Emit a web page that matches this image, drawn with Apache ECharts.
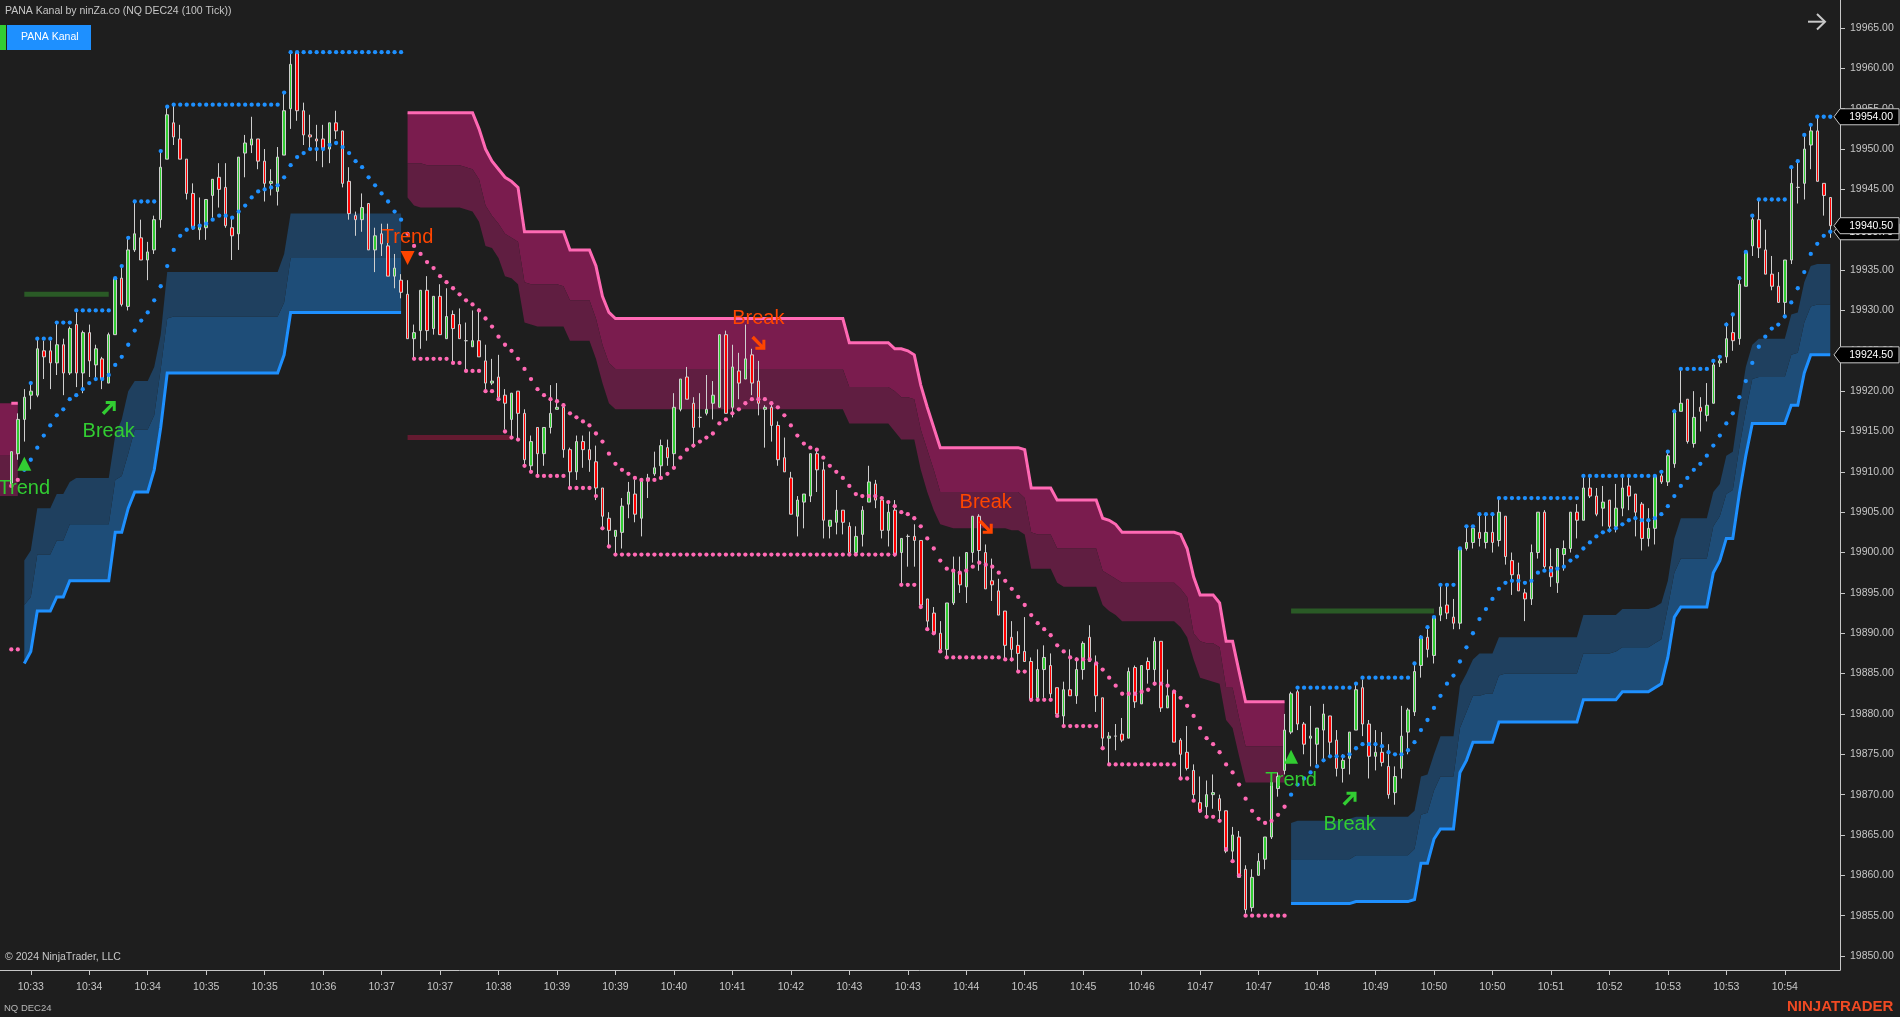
<!DOCTYPE html>
<html><head><meta charset="utf-8"><title>PANA Kanal</title>
<style>html,body{margin:0;padding:0;background:#1e1e1e;overflow:hidden}#c{width:1900px;height:1017px}</style>
<script src="https://cdn.jsdelivr.net/npm/echarts@6/dist/echarts.min.js"></script></head>
<body><div id="c"></div><script>
// one row per bar: open, high, low, close
const candles=[
[19908.5,19912.5,19908.25,19912.5],[19912.25,19917.25,19911.5,19916.5],[19916.5,19920.25,19913.75,19919.25],[19919.5,19921,19917.75,19920],[19919.5,19926.5,19919.25,19925.25],
[19925,19926.25,19921.5,19924.25],[19925,19926.25,19920.25,19923.5],[19923.5,19928.5,19922,19925.75],[19925.75,19926.5,19919.5,19922.25],[19922.25,19928,19922,19927.75],
[19928.25,19929.75,19920.5,19922.25],[19922.25,19927.5,19919.75,19927.25],[19927.25,19928.25,19921.75,19923.75],[19923.25,19925.75,19921.5,19925.25],[19924,19924.25,19920.25,19921.5],
[19921,19927.25,19921,19927],[19927,19934,19927,19934],[19934,19935.5,19930.5,19930.75],[19930.5,19939,19930,19937.5],[19937.5,19943.5,19937.25,19939.5],
[19939,19941.25,19936.25,19936.25],[19936.25,19938.5,19933.75,19937.25],[19937.5,19941.75,19937,19941.25],[19941.25,19949.75,19940.25,19947.75],[19948.75,19955.25,19948.75,19954.25],
[19953.25,19955.5,19950.5,19951.5],[19951.25,19953,19948.75,19948.75],[19948.75,19948.75,19943.75,19944.5],[19944.5,19945.75,19940,19940.25],[19940,19944,19938.75,19940.5],
[19940.25,19943.75,19938.75,19943.75],[19944.25,19946.25,19941.5,19946.25],[19946.5,19948.25,19942.75,19945],[19945.25,19948.25,19940.25,19940.5],[19940.25,19941.5,19936.25,19939.25],
[19939.5,19949,19937.5,19949],[19949.5,19951.75,19946.5,19950.75],[19950.5,19954,19949.5,19951.25],[19951.25,19951.25,19947.5,19948.5],[19948.5,19950,19943.5,19945.75],
[19945.75,19947.5,19944.25,19946],[19944.75,19950.25,19943,19949],[19949.25,19957,19949.25,19954.75],[19955,19962,19952.5,19960.5],[19962,19962,19953.5,19954.75],
[19954.75,19955.75,19950.5,19951.75],[19951.75,19954.25,19950,19951.5],[19951.25,19953,19948.5,19951],[19951.25,19953,19947.75,19950],[19950,19953.25,19948.25,19953.25],
[19953.25,19954.75,19951.25,19952.25],[19952.25,19952.25,19945.25,19945.75],[19946,19947.75,19941.25,19942],[19941.75,19942.25,19939.25,19941.25],[19941.25,19944.5,19939.75,19942.75],
[19943.25,19943.25,19937.5,19937.5],[19937.5,19940.25,19934.75,19939.25],[19939.5,19940.75,19936.75,19938.25],[19938,19940.75,19934.25,19934.25],[19934.25,19937,19932.75,19935.25],
[19933.75,19934.5,19931.5,19932.25],[19932,19933.75,19926.5,19926.5],[19926.5,19928.25,19924,19927.25],[19927.5,19932.5,19925.25,19932.5],[19932.5,19934.25,19926.25,19927.5],
[19927.75,19931.75,19927,19931.75],[19931.75,19933.25,19927,19927],[19926.5,19932.75,19926.5,19929.25],[19929.5,19930,19923.5,19927.75],[19928.25,19930.25,19926.5,19926.5],
[19926.25,19928.5,19922.5,19926.25],[19925.5,19930,19925.5,19926.25],[19926.25,19930.25,19924.25,19924.25],[19923.75,19925.75,19920.25,19921],[19921,19924,19920.75,19921.25],
[19921.75,19924.5,19919.25,19919.25],[19919.5,19920.25,19915.25,19918.5],[19916.5,19919.75,19914.25,19919.75],[19920,19920,19914,19917.25],[19917.25,19917.75,19910.75,19911.5],
[19910.75,19914.5,19910,19913.75],[19915.5,19915.5,19909.5,19912.25],[19912.25,19915.5,19910.75,19915.5],[19915.5,19920.75,19914.75,19917.25],[19917.75,19921,19917.75,19918],
[19918,19918.5,19911.75,19912.75],[19912.75,19913,19908,19910],[19910,19914.5,19909,19913.75],[19913.75,19914.5,19910.5,19912.75],[19912.75,19915,19910,19911.5],
[19911.25,19913.25,19906.5,19908],[19908,19908,19903,19904.5],[19904.25,19905,19900.75,19902.75],[19902,19902.75,19899.75,19902.75],[19902.5,19906.75,19900.5,19905.75],
[19906,19908.75,19904.25,19907.5],[19907.25,19909,19903.75,19904.75],[19904.25,19909,19902,19909],[19909,19909.75,19906.75,19909.25],[19909.75,19912.5,19909.5,19910.5],
[19910.75,19914,19909,19913.25],[19913,19914,19910.75,19911.75],[19912.25,19919.75,19910.5,19918],[19917.75,19921.5,19917.5,19921.5],[19921.75,19923,19919,19919],
[19918.5,19919.25,19913,19915.5],[19916.75,19919.75,19915.5,19916.75],[19917.25,19922,19917,19917.75],[19918.5,19921.25,19916.5,19919.5],[19918,19927,19918,19927],
[19927,19927.5,19917.25,19917.25],[19918,19925.75,19916.75,19923],[19922.5,19924.75,19919,19921],[19921.5,19928.25,19921.5,19924],[19924.5,19925.25,19919.5,19921],
[19921.25,19923.75,19917,19918.5],[19917.75,19918.25,19913,19918],[19918,19918.5,19913.75,19915.75],[19915.75,19916.25,19910.75,19911.5],[19911.75,19914.25,19910,19910],
[19909.25,19910,19904.75,19904.75],[19904.5,19907,19902,19906.5],[19906.25,19907.25,19903,19907.25],[19907,19912.25,19906.25,19912.25],[19912.25,19912.75,19907.5,19910.25],
[19910.25,19911.25,19901.75,19904],[19903.25,19904,19901.75,19904],[19903.75,19907.75,19902.25,19905.25],[19905.25,19905.25,19902.25,19903.75],[19903.25,19903.75,19899.75,19900],
[19900,19903.25,19899.75,19902],[19902.25,19905.75,19900.75,19905.25],[19906.25,19910.75,19906.25,19908.75],[19908.5,19909,19905.5,19906.5],[19906.5,19907,19901.75,19902.75],
[19902.75,19906,19900.75,19905],[19905.25,19906.5,19899.5,19899.75],[19900,19901.75,19896,19901.75],[19902,19902.25,19898.25,19902],[19902,19903.5,19898.25,19901.5],
[19901.5,19901.5,19893,19893.5],[19894.25,19894.25,19890.5,19891.5],[19892.5,19893.25,19890,19890],[19890,19891.5,19887.75,19888],[19888,19893.75,19887,19893.75],
[19893.75,19899.5,19893.5,19897.75],[19897.5,19899.5,19895,19896],[19895.75,19900,19893.75,19900],[19900,19904.5,19898.75,19904.5],[19904.5,19904.75,19897.75,19900.25],
[19900,19901,19895.5,19895.5],[19896.5,19899.25,19894,19896],[19895.25,19896.75,19892.25,19892.25],[19892.75,19892.75,19886.75,19888.5],[19889.5,19891.5,19886.5,19888],
[19888.5,19890.25,19885.25,19887.5],[19887.75,19892,19886.5,19886.5],[19886.5,19887,19881.5,19881.75],[19882,19888,19882,19885.5],[19885.5,19888.5,19882,19887],
[19886,19887.5,19882,19882.5],[19883.25,19883.25,19879.75,19880],[19879.75,19884,19878.5,19883],[19883,19888,19882.25,19882.25],[19882.25,19887,19881.25,19885.5],
[19885.5,19889,19884.25,19888.75],[19889.5,19891,19886.5,19886.5],[19886.25,19887.25,19880.25,19882.25],[19882,19882,19875.75,19877],[19877,19877.75,19873.75,19877.25],
[19877.25,19878.75,19875.5,19877.25],[19877.5,19879.5,19876.5,19876.75],[19877,19885.75,19877,19885.25],[19885.75,19886,19880.75,19881.5],[19881.25,19886,19881.25,19886],
[19886.5,19887,19883.75,19885.5],[19885.5,19889.5,19883.5,19889],[19889,19889,19880.25,19880.75],[19880.75,19885.5,19880.75,19882.25],[19882.75,19883,19876.5,19876.5],
[19876.75,19877,19872,19875],[19875.25,19878.5,19873,19873.25],[19873,19873.75,19869.25,19870],[19869,19872.25,19867.75,19868],[19868.5,19871.75,19867.25,19870],
[19870,19872.5,19868.25,19870.25],[19869.5,19870,19866.75,19868],[19868,19868,19862.75,19863],[19863,19866,19861.75,19865],[19864.75,19865.5,19859.75,19859.75],
[19860.75,19861.25,19855.25,19855.75],[19856,19860.75,19855.5,19859.75],[19860,19862.75,19860,19861.75],[19862,19864.75,19860.75,19864.75],[19864.75,19871.5,19864.5,19871.5],
[19870.75,19872.75,19869.75,19872.25],[19873,19880,19872.5,19878],[19877.75,19882.75,19877.5,19882.5],[19882.75,19883,19878,19878.75],[19878.75,19879,19875,19876.25],
[19877,19881,19873.5,19877.25],[19876.25,19878.25,19873.75,19878.25],[19878,19881.25,19874.25,19880],[19879.75,19879.75,19874.75,19876.5],[19876.75,19878,19872.25,19873.25],
[19873.25,19875,19871.5,19874.25],[19874.5,19877.75,19872.5,19877.75],[19878,19883.75,19878,19883],[19883.25,19884.25,19877.25,19878.75],[19878.75,19879.25,19872,19874.75],
[19874.75,19878,19873,19875.25],[19875.25,19877.75,19873.5,19874],[19873.5,19876.25,19869.5,19870],[19870.25,19873.5,19868.75,19872.25],[19873.25,19881,19872,19877.25],
[19877.75,19880.75,19875,19880.5],[19880.25,19886.25,19879.75,19885.25],[19886,19889.75,19884.5,19889.5],[19889.5,19890.5,19887,19888],[19887.25,19892,19886.25,19892],
[19892.25,19896,19891.5,19893.25],[19893.5,19896,19891.75,19892.5],[19892,19894.25,19890.5,19891.25],[19891.25,19900.5,19890.5,19900.5],[19900.5,19903.25,19900.25,19901.25],
[19901.25,19903.25,19900.5,19903],[19902.5,19904.75,19900.75,19901.75],[19901.25,19904.75,19900.5,19902.5],[19902.5,19904.75,19900,19901.25],[19901.5,19906.75,19900.75,19905],
[19904.5,19904.5,19898.5,19899.5],[19899,19900,19894.75,19897.25],[19897.25,19898.75,19895.25,19895.25],[19895,19895.5,19891.5,19894.25],[19894.25,19901,19893.5,19900],
[19900,19905,19899.25,19905],[19905,19905.25,19898,19898.25],[19898.25,19900.5,19895.75,19897],[19896.25,19900.5,19895,19900.5],[19899.75,19901.5,19897.75,19900.5],
[19900.5,19905,19900,19905],[19905,19906,19901.75,19904],[19904,19909.5,19904,19908],[19908,19909.5,19906.75,19907],[19907,19908,19904.5,19904.75],
[19905.5,19908.25,19903.25,19906.25],[19906.5,19906.5,19902.5,19903.25],[19903.25,19908.5,19902.5,19905.5],[19905.5,19909.5,19904.5,19908],[19908.25,19909.5,19905.25,19907],
[19907.25,19907.25,19902,19905],[19906,19906.25,19900.25,19901.75],[19901.75,19905.5,19900.75,19903],[19903,19909.5,19901,19909.5],[19909.5,19910,19908.5,19908.75],
[19908.75,19912.5,19908.25,19912],[19911,19917.75,19910.5,19917.5],[19917.5,19922.75,19917.5,19918.5],[19919,19919,19913.5,19913.75],[19913.5,19920,19913,19916.75],
[19918,19919.25,19915,19917.5],[19917,19921,19916.25,19918.25],[19918.5,19923.75,19918.5,19923.25],[19923.5,19924.25,19923,19923.75],[19924.25,19928.5,19923.5,19926.5],
[19927.25,19929.5,19925,19926.25],[19926.5,19934,19925.75,19933.25],[19933,19937.25,19933,19937.25],[19938,19941.75,19936.75,19941.25],[19941.25,19943.75,19936.5,19937.75],
[19937.5,19940,19934.5,19934.5],[19934.5,19936.75,19932.5,19933],[19933,19934.75,19931,19931],[19931,19936.25,19929.5,19936.25],[19936.25,19947.75,19935.75,19945.75],
[19945.25,19948.5,19943.25,19945.25],[19945.75,19951.75,19943.75,19950],[19950.5,19953,19947.5,19952.25],[19952.25,19954,19946,19946],[19945.75,19945.75,19941.75,19944.25],
[19944,19944,19939,19940.5]];

// trailing channel dots, bars 0..280 (10 per row)
const trailDots=[
19908.25,19909,19910.25,19911.5,19913,19914.5,19915.75,19917,19917.75,19919,
19919.5,19920.25,19921,19921.5,19921.5,19922,19923.25,19924.25,19925.75,19927.5,
19928.75,19929.75,19931.25,19933,19935.5,19937.5,19939.25,19940,19940.25,19940.5,
19940.75,19941.25,19941.75,19941.75,19941.5,19942.25,19943,19944,19944.75,19945,
19945.25,19945.5,19946.5,19948,19949,19949.5,19950,19950,19950,19950.5,
19950.75,19950.25,19949.5,19948.5,19947.75,19946.5,19945.5,19944.5,19943.5,19942.25,
19941.25,19939.5,19938,19937,19936,19935.25,19934.25,19933.5,19932.75,19932,
19931.25,19930.75,19930,19929,19928,19926.75,19925.75,19925,19924,19922.75,
19921.5,19920.25,19919.5,19919,19918.75,19918.25,19917.25,19916.75,19916.25,19915.75,
19914.75,19913.75,19912.25,19911,19910.25,19909.75,19909.25,19909,19909,19909,
19909.25,19909.75,19910.5,19911.75,19912.75,19913.25,19913.75,19914.25,19914.75,19916,
19916.5,19917.25,19917.75,19918.5,19919,19919,19919,19918.5,19918,19917,
19915.75,19914.5,19913.5,19913,19912.75,19911.75,19910.75,19910,19909.25,19908.25,
19907.25,19907,19907,19907,19906.75,19906.25,19905.75,19905,19904.75,19904.25,
19903.25,19901.75,19900.5,19899,19898,19897.75,19897.5,19897.75,19898.25,19898.75,
19898.5,19898.25,19897.5,19896.5,19895.5,19894.5,19893.5,19892.25,19891.25,19890.5,
19889.75,19888.5,19887.75,19887,19886.75,19886.75,19886.75,19886.25,19885.5,19884.5,
19883.5,19882.5,19882.5,19882.5,19882.75,19883,19883.75,19883.75,19883.5,19882.75,
19882,19881,19879.75,19878.25,19877,19876.25,19875.25,19873.75,19872.75,19871.25,
19869.5,19868,19867,19866.5,19866.75,19867.5,19868.5,19870,19871.25,19872,
19872.75,19873.5,19874.25,19874.75,19874.75,19874.75,19875,19875.75,19876.25,19876.25,
19876.25,19876,19875.25,19875,19875,19875.5,19876.5,19878,19879.25,19880.75,
19882.25,19883.75,19884.75,19886.5,19888.25,19890,19891.75,19893,19894.25,19895.5,
19896.25,19896.5,19896.5,19896.25,19896.5,19897.5,19897.75,19897.75,19898,19898.25,
19899,19899.5,19900.5,19901.25,19902,19902.5,19902.75,19903,19903.5,19904,
19904.25,19904,19904,19904.25,19904.75,19905.75,19907,19908.25,19909.25,19910.25,
19911,19912,19913.25,19914.5,19916,19917.25,19919.25,19921.25,19923.5,19925.5,
19926.75,19927.75,19928.25,19929.25,19931,19932.75,19934.75,19937,19938.25,19939.25,
19939.75];

// stepped high / low dots, bars 0..280 (10 per row)
const stepDots=[
19888,19888,null,19921,19926.5,19926.5,19926.5,19928.5,19928.5,19928.5,
19930,19930,19930,19930,19930,19930,19934,19935.5,19939,19943.5,
19943.5,19943.5,19943.5,19949.75,19955.25,19955.5,19955.5,19955.5,19955.5,19955.5,
19955.5,19955.5,19955.5,19955.5,19955.5,19955.5,19955.5,19955.5,19955.5,19955.5,
19955.5,19955.5,19957,19962,19962,19962,19962,19962,19962,19962,
19962,19962,19962,19962,19962,19962,19962,19962,19962,19962,
19962,null,19924,19924,19924,19924,19924,19924,19923.5,19923.5,
19922.5,19922.5,19922.5,19920,19920,19919,19915,19914.25,19914,19910.75,
19910,19909.5,19909.5,19909.5,19909.5,19909.5,19908,19908,19908,19908,
19907,19903,19900.75,19899.75,19899.75,19899.75,19899.75,19899.75,19899.75,19899.75,
19899.75,19899.75,19899.75,19899.75,19899.75,19899.75,19899.75,19899.75,19899.75,19899.75,
19899.75,19899.75,19899.75,19899.75,19899.75,19899.75,19899.75,19899.75,19899.75,19899.75,
19899.75,19899.75,19899.75,19899.75,19899.75,19899.75,19899.75,19899.75,19899.75,19899.75,
19899.75,19899.75,19899.75,19899.75,19899.75,19899.75,19899.75,19896,19896,19896,
19893.25,19890.5,19890,19887.75,19887,19887,19887,19887,19887,19887,
19887,19887,19887,19886.75,19886.75,19885.25,19885.25,19881.75,19881.75,19881.75,
19881.75,19879.75,19878.5,19878.5,19878.5,19878.5,19878.5,19878.5,19875.75,19873.75,
19873.75,19873.75,19873.75,19873.75,19873.75,19873.75,19873.75,19873.75,19873.75,19873.75,
19872,19872,19869.25,19868,19867.25,19867.25,19866.75,19863.25,19861.75,19860,
19855,19855,19855,19855,19855,19855,19855,null,19883.25,19883.25,
19883.25,19883.25,19883.25,19883.25,19883.25,19883.25,19883.25,19883.75,19884.5,19884.5,
19884.5,19884.5,19884.5,19884.5,19884.5,19884.5,19886.25,19889.5,19890.75,19892,
19896,19896,19896,19900.5,19903.25,19903.25,19904.75,19904.75,19904.75,19906.75,
19906.75,19906.75,19906.75,19906.75,19906.75,19906.75,19906.75,19906.75,19906.75,19906.75,
19906.75,19906.75,19909.5,19909.5,19909.5,19909.5,19909.5,19909.5,19909.5,19909.5,
19909.5,19909.5,19909.5,19909.5,19910,19912.5,19917.5,19922.75,19922.75,19922.75,
19922.75,19922.75,19923.75,19924.25,19928.25,19929.5,19934,19937.25,19941.75,19943.75,
19943.75,19943.75,19943.75,19943.75,19947.75,19948.5,19951.75,19953,19954,19954,
19954];

// first (clipped) bearish band: starts two slots before bar 0
const bear0Outer=[19918.5,19918.5,19918.5,19918.5];
const bear0Mid=[19912,19912,19912,19912];
const bear0Inner=[19907,19907,19907,19907];

// bullish band, bars 2..60
const bull1Outer=[
19886.25,19887.75,19892.75,19892.75,19892.75,19894.5,19894.5,19896.5,19896.5,19896.5,
19896.5,19896.5,19896.5,19896.5,19902.5,19902.5,19905.5,19907.5,19907.5,19907.5,
19910.25,19915.5,19922.25,19922.25,19922.25,19922.25,19922.25,19922.25,19922.25,19922.25,
19922.25,19922.25,19922.25,19922.25,19922.25,19922.25,19922.25,19922.25,19922.25,19922.25,
19924.5,19929.75,19929.75,19929.75,19929.75,19929.75,19929.75,19929.75,19929.75,19929.75,
19929.75,19929.75,19929.75,19929.75,19929.75,19929.75,19929.75,19929.75,19929.75];
const bull1Mid=[
19893.5,19894.5,19899.75,19899.75,19899.75,19901.5,19901.5,19903.5,19903.5,19903.5,
19903.5,19903.5,19903.5,19903.5,19909,19909.5,19912.25,19915.25,19915.25,19915.25,
19917,19922.75,19929,19929.25,19929.25,19929.25,19929.25,19929.25,19929.25,19929.25,
19929.25,19929.25,19929.25,19929.25,19929.25,19929.25,19929.25,19929.25,19929.25,19929.25,
19931,19936.5,19936.5,19936.5,19936.5,19936.5,19936.5,19936.5,19936.5,19936.5,
19936.5,19936.5,19936.5,19936.5,19936.5,19936.5,19936.5,19936.5,19936.5];
const bull1Inner=[
19899,19900.25,19905.5,19905.5,19905.5,19907.25,19907.25,19908.75,19909.25,19909.25,
19909.25,19909.25,19909.25,19909.25,19914.5,19916.5,19920,19921.25,19921.25,19921.25,
19923,19927,19934.75,19934.75,19934.75,19934.75,19934.75,19934.75,19934.75,19934.75,
19934.75,19934.75,19934.75,19934.75,19934.75,19934.75,19934.75,19934.75,19934.75,19934.75,
19937,19942,19942,19942,19942,19942,19942,19942,19942,19942,
19942,19942,19942,19942,19942,19942,19942,19942,19942];

// bearish band, bars 61..196
const bear1Outer=[
19954.5,19954.5,19954.5,19954.5,19954.5,19954.5,19954.5,19954.5,19954.5,19954.5,
19954.5,19952.5,19950,19948.5,19947.5,19946.5,19946,19945.25,19939.75,19939.75,
19939.75,19939.75,19939.75,19939.75,19939.75,19937.5,19937.5,19937.5,19937.5,19935.5,
19931.75,19929.75,19929,19929,19929,19929,19929,19929,19929,19929,
19929,19929,19929,19929,19929,19929,19929,19929,19929,19929,
19929,19929,19929,19929,19929,19929,19929,19929,19929,19929,
19929,19929,19929,19929,19929,19929,19929,19929,19926,19926,
19926,19926,19926,19926,19926,19925.25,19925.25,19925,19924.5,19920.75,
19918,19915.5,19913,19913,19913,19913,19913,19913,19913,19913,
19913,19913,19913,19913,19913,19912.75,19908,19908,19908,19908,
19906.5,19906.5,19906.5,19906.5,19906.5,19906.5,19906.5,19904.25,19904,19903.5,
19902.5,19902.5,19902.5,19902.5,19902.5,19902.5,19902.5,19902.5,19902.5,19902.25,
19900.5,19897,19894.75,19894.75,19894.75,19893.75,19889,19889,19885.25,19881.5,
19881.5,19881.5,19881.5,19881.5,19881.5,19881.5];
const bear1Mid=[
19948.25,19948.25,19948.25,19948,19948,19948,19948,19948,19948,19947.75,
19947.5,19946.25,19943,19941.75,19940.75,19939.5,19939,19938.5,19933.5,19933.25,
19933.25,19933.25,19933.25,19933.25,19933,19931.25,19931.25,19931.25,19931.25,19929,
19925.75,19923.5,19922.75,19922.75,19922.75,19922.75,19922.75,19922.75,19922.75,19922.75,
19922.75,19922.75,19922.75,19922.75,19922.75,19922.75,19922.75,19922.75,19922.75,19922.75,
19922.75,19922.75,19922.75,19922.75,19922.75,19922.75,19922.75,19922.75,19922.75,19922.75,
19922.75,19922.75,19922.75,19922.75,19922.75,19922.75,19922.75,19922.75,19920.5,19920.5,
19920.5,19920.5,19920.5,19920.5,19920.5,19920,19919.25,19919.25,19919,19915.25,
19912.75,19910.25,19907.5,19907.5,19907.5,19907.5,19907.5,19907.5,19907.5,19907.5,
19907.5,19907.5,19907.5,19907.5,19907.5,19906.75,19902.5,19902.25,19902.25,19902.25,
19900.5,19900.5,19900.5,19900.5,19900.5,19900.5,19900.5,19897.75,19897.25,19896.75,
19896.25,19896.25,19896.25,19896.25,19896.25,19896.25,19896.25,19896.25,19896.25,19895.5,
19894.5,19890,19889,19888.75,19888.75,19888.25,19883.25,19883.25,19879.5,19876,
19876,19876,19876,19876,19876,19876];
const bear1Inner=[
19944,19943,19942.75,19942.75,19942.75,19942.75,19942.75,19942.75,19942.75,19942.5,
19942.25,19941,19938,19937.75,19936.5,19934.25,19934,19933.25,19928.5,19928.25,
19928,19928,19928,19928,19928,19926.25,19926.25,19926.25,19926.25,19924,
19921,19918.5,19917.75,19917.75,19917.75,19917.75,19917.75,19917.75,19917.75,19917.75,
19917.75,19917.75,19917.75,19917.75,19917.75,19917.75,19917.75,19917.75,19917.75,19917.75,
19917.75,19917.75,19917.75,19917.75,19917.75,19917.75,19917.75,19917.75,19917.75,19917.75,
19917.75,19917.75,19917.75,19917.75,19917.75,19917.75,19917.75,19917.75,19916,19916,
19916,19916,19916,19916,19916,19915,19914,19914,19914,19910.25,
19907.5,19905.25,19903.5,19903.25,19903,19903,19903,19903,19903,19903,
19903,19903,19903,19902.75,19902.75,19902.25,19898,19898,19898,19898,
19896.25,19895.75,19895.75,19895.75,19895.75,19895.75,19895.75,19893.5,19892.75,19892.25,
19891.5,19891.5,19891.5,19891.5,19891.5,19891.5,19891.5,19891.5,19891.5,19890.75,
19889.5,19886.75,19884.5,19884.25,19884,19883.75,19879.25,19878.25,19874.75,19871.5,
19871.5,19871.5,19871.5,19871.5,19871.5,19871.5];

// bullish band, bars 197..280
const bull2Outer=[
19856.5,19856.5,19856.5,19856.5,19856.5,19856.5,19856.5,19856.5,19856.5,19856.5,
19856.75,19856.75,19856.75,19856.75,19856.75,19856.75,19856.75,19856.75,19856.75,19857,
19861.5,19861.5,19864.5,19865.75,19865.75,19865.75,19872.75,19874.25,19876.5,19876.5,
19876.5,19876.5,19879,19879,19879,19879,19879,19879,19879,19879,
19879,19879,19879,19879,19879,19881.75,19881.75,19881.75,19881.75,19881.75,
19881.75,19882.75,19882.75,19882.75,19882.75,19882.75,19883.25,19883.75,19887,19892,
19893.25,19893.25,19893.25,19893.25,19893.25,19897.5,19899,19901.75,19901.75,19907.25,
19912,19916,19916,19916,19916,19916,19916,19918.25,19918.25,19922.25,
19924.5,19924.5,19924.5,19924.5];
const bull2Mid=[
19862,19862,19862,19862,19862,19862,19862,19862,19862,19862,
19862.5,19862.5,19862.5,19862.5,19862.5,19862.5,19862.5,19862.5,19862.5,19863.25,
19867.5,19867.75,19870.5,19872.25,19872.25,19872.25,19878.25,19880.25,19882.25,19882.25,
19882.5,19882.5,19884.75,19885,19885,19885,19885,19885,19885,19885,
19885,19885,19885,19885,19885,19887.5,19887.5,19887.5,19887.5,19887.5,
19887.75,19888.25,19888.25,19888.25,19888.25,19888.25,19888.75,19889.25,19893.25,19897.5,
19899.25,19899.25,19899.25,19899.25,19899.25,19903.25,19904.5,19907.25,19907.75,19913,
19917.5,19921.5,19921.75,19921.75,19921.75,19921.75,19921.75,19924.5,19924.75,19928.5,
19930.5,19930.75,19930.75,19930.75];
const bull2Inner=[
19866.5,19866.75,19866.75,19866.75,19866.75,19866.75,19866.75,19866.75,19866.75,19867,
19867.25,19867.25,19867.25,19867.25,19867.25,19867.25,19867.25,19867.25,19867.25,19868,
19872.25,19872.5,19875,19877.25,19877.25,19877.25,19883.5,19885,19886.75,19887.5,
19887.5,19887.5,19889.5,19889.5,19889.5,19889.5,19889.5,19889.5,19889.5,19889.5,
19889.5,19889.5,19889.5,19889.5,19889.5,19892.25,19892.25,19892.25,19892.25,19892.25,
19892.25,19893,19893,19893,19893,19893,19893.25,19893.75,19896.5,19901.75,
19904.25,19904.25,19904.25,19904.25,19904.25,19907.5,19908.5,19912,19912.5,19918,
19923,19925.75,19926.5,19926.5,19926.5,19926.5,19926.5,19929.5,19929.75,19933.5,
19935.5,19935.75,19935.75,19935.75];

// signal markers: bar, marker price, text price
const bullTrend=[[2,19911,19907.95],[197,19874.7,19871.8]];
const bearTrend=[[61,19936.5,19939]];
const bullBreak=[[15,19917.9,19914.95],[206,19869.5,19866.35]];
const bearBreak=[[115,19926,19929],[150,19903.2,19906.2]];
// short thick level lines: first bar, last bar, price
const bullLevels=[[2,15,19932],[197,219,19892.75]];
const bearLevels=[[61,77,19914.25]];
const priceTags=[19954,19939.75,19940.5,19924.5];
const yTicks=[19850,19855,19860,19865,19870,19875,19880,19885,19890,19895,19900,19905,19910,19915,19920,19925,19930,19935,19940,19945,19950,19955,19960,19965];
const timeLabels=['10:33','10:34','10:34','10:35','10:35','10:36','10:37','10:37','10:38','10:39','10:39','10:40','10:41','10:42','10:43','10:43','10:44','10:45','10:45','10:46','10:47','10:47','10:48','10:49','10:50','10:50','10:51','10:52','10:53','10:53','10:54'];

const PAD=2, FIRST_TICK=3, TICK_EVERY=9, SLOTS=284;
const FONT='"Liberation Sans",Arial,sans-serif';
const GREEN='#32cd32',ORANGE='#ff4500',PINK='#ff69b4',BLUE='#1e90ff',AXIS='#c6c6c6';
const cats=Array.from({length:SLOTS},(_,s)=>{const b=s-PAD-FIRST_TICK;return b>=0&&b%TICK_EVERY===0?(timeLabels[b/TICK_EVERY]||''):'';});
const tickSel=s=>{const b=s-PAD-FIRST_TICK;return b>=0&&b%TICK_EVERY===0&&b/TICK_EVERY<timeLabels.length;};
const isBull=b=>(b>=2&&b<=60)||b>=197;

function band(name,startBar,a,b,fill){
  const pts=[];a.forEach((v,i)=>pts.push([startBar+PAD+i,v]));
  const back=[];b.forEach((v,i)=>back.push([startBar+PAD+i,v]));
  return {type:'custom',name,silent:true,z:1,clip:true,data:pts.map((p,i)=>[p[0],p[1],back[i][1]]),encode:{x:0,y:[1,2]},
    renderItem(params,api){
      if(params.dataIndex!==0)return null;
      const poly=pts.concat(back.slice().reverse()).map(p=>api.coord(p));
      return {type:'polygon',shape:{points:poly},style:{fill}};
    }};
}
function outerLine(name,startBar,a,color){
  return {type:'line',name,silent:true,z:2,showSymbol:false,symbol:'none',data:a.map((v,i)=>[startBar+PAD+i,v]),lineStyle:{color,width:3,join:'miter'},animation:false};
}
function dots(name,src,want,color){
  const d=[];src.forEach((v,b)=>{if(v!=null&&want(b))d.push([b+PAD,v]);});
  return {type:'scatter',name,silent:true,z:6,symbol:'circle',symbolSize:4.3,data:d,itemStyle:{color,opacity:1}};
}
function levels(name,arr,color){
  return arr.map(([a,b,v],i)=>{const d=[];for(let s=a;s<=b;s++)d.push([s+PAD,v]);
    return {type:'line',name:name+i,silent:true,z:2,symbol:'none',data:d,lineStyle:{color,width:5,cap:'butt'}};});
}
function marks(name,arr,symbol,size,color,rotate){
  return {type:'scatter',name,silent:true,z:8,symbol,symbolSize:size,symbolRotate:rotate||0,data:arr.map(r=>[r[0]+PAD,r[1]]),itemStyle:{color,opacity:1}};
}
function words(name,arr,text,color){
  return {type:'scatter',name,silent:true,z:9,symbolSize:1,data:arr.map(r=>[r[0]+PAD,r[2]]),itemStyle:{color:'transparent',opacity:1},
    label:{show:true,position:'inside',formatter:text,color,opacity:1,fontFamily:FONT,fontSize:20}};
}
const ARROW_UP='path://M4 0H14V10H11V5L2.5 14L0 11.5L8.5 3H4Z';
const ARROW_DN='path://M4 14H14V4H11V9L2.5 0L0 2.5L8.5 11H4Z';

const chart=echarts.init(document.getElementById('c'),null,{renderer:'canvas',width:1900,height:1017});
chart.setOption({
  animation:false,backgroundColor:'#1e1e1e',tooltip:{show:false},
  grid:{left:-4.94,right:60,top:0,height:970,containLabel:false,outerBoundsMode:'none'},
  xAxis:{type:'category',data:cats,boundaryGap:true,
    axisLine:{show:true,onZero:false,lineStyle:{color:AXIS,width:1}},
    axisTick:{show:true,alignWithLabel:true,interval:tickSel,length:5,lineStyle:{color:AXIS}},
    axisLabel:{show:true,interval:tickSel,color:'#c6c6c6',fontFamily:FONT,fontSize:10.5,margin:12},
    splitLine:{show:false}},
  yAxis:{type:'value',position:'right',min:19848.27,max:19968.47,
    axisLine:{show:true,lineStyle:{color:AXIS,width:1}},
    axisTick:{show:true,customValues:yTicks,length:5,lineStyle:{color:AXIS}},
    axisLabel:{show:true,customValues:yTicks,formatter:v=>v.toFixed(2),color:'#c6c6c6',fontFamily:FONT,fontSize:10.5,margin:10,showMinLabel:true,showMaxLabel:true},
    splitLine:{show:false}},
  graphic:{elements:[
    {type:'text',left:5,top:6,style:{text:'PANA Kanal by ninZa.co (NQ DEC24 (100 Tick))',fill:'#c6c6c6',font:'10.5px '+FONT}},
    {type:'rect',left:0,top:25,shape:{width:6,height:25},style:{fill:GREEN}},
    {type:'rect',left:7,top:25,shape:{width:84,height:25},style:{fill:BLUE}},
    {type:'text',left:21,top:32,style:{text:'PANA Kanal',fill:'#ffffff',font:'10.5px '+FONT}},
    {type:'text',left:5,top:952,style:{text:'© 2024 NinjaTrader, LLC',fill:'#c6c6c6',font:'10.5px '+FONT}},
    {type:'text',left:4,top:1003,style:{text:'NQ DEC24',fill:'#b8b8b8',font:'9.5px '+FONT}},
    {type:'text',left:1787,top:999,style:{text:'NINJATRADER',fill:'#f04a23',font:'bold 15px '+FONT}},
    {type:'polyline',shape:{points:[[1808,21.7],[1825,21.7]]},style:{stroke:'#c8c8c8',lineWidth:2,fill:'none'}},
    {type:'polyline',shape:{points:[[1817,14],[1825,21.7],[1817,29.5]]},style:{stroke:'#c8c8c8',lineWidth:2,fill:'none'}}
  ]},
  series:[
    band('bear0 light',-2,bear0Outer,bear0Mid,'#7a1c4e'),
    band('bear0 dark',-2,bear0Mid,bear0Inner,'#601e41'),
    band('bull1 light',2,bull1Outer,bull1Mid,'#1e4d78'),
    band('bull1 dark',2,bull1Mid,bull1Inner,'#1f405f'),
    band('bear1 light',61,bear1Outer,bear1Mid,'#7a1c4e'),
    band('bear1 dark',61,bear1Mid,bear1Inner,'#601e41'),
    band('bull2 light',197,bull2Outer,bull2Mid,'#1e4d78'),
    band('bull2 dark',197,bull2Mid,bull2Inner,'#1f405f'),
    outerLine('bear0 line',0,bear0Outer.slice(2),PINK),
    outerLine('bull1 line',2,bull1Outer,BLUE),
    outerLine('bear1 line',61,bear1Outer,PINK),
    outerLine('bull2 line',197,bull2Outer,BLUE),
    ...levels('bull level',bullLevels,'#2a5a26'),
    ...levels('bear level',bearLevels,'#641a30'),
    {type:'candlestick',name:'NQ DEC24',silent:true,z:4,barWidth:3,
      data:cats.map((_,s)=>{const r=candles[s-PAD];return r?[r[0],r[3],r[2],r[1]]:'-';}),
      itemStyle:{color:'#32cd32',color0:'#ff0000',borderColor:'#cfcfcf',borderColor0:'#cfcfcf',borderColorDoji:'#cfcfcf',borderWidth:1}},
    dots('bull step',stepDots,isBull,BLUE),
    dots('bear step',stepDots,b=>!isBull(b),PINK),
    dots('bull trail',trailDots,isBull,BLUE),
    dots('bear trail',trailDots,b=>!isBull(b),PINK),
    marks('bull trend',bullTrend,'triangle',14,GREEN),
    marks('bear trend',bearTrend,'triangle',14,ORANGE,180),
    marks('bull break',bullBreak,ARROW_UP,14,GREEN),
    marks('bear break',bearBreak,ARROW_DN,14,ORANGE),
    words('bull trend text',bullTrend,'Trend',GREEN),
    words('bear trend text',bearTrend,'Trend',ORANGE),
    words('bull break text',bullBreak,'Break',GREEN),
    words('bear break text',bearBreak,'Break',ORANGE),
    {type:'custom',name:'price tags',silent:true,z:20,clip:false,data:priceTags.map(v=>[SLOTS-1,v]),encode:{x:0,y:1},
      renderItem(params,api){
        const y=api.coord([SLOTS-1,api.value(1)])[1];
        return {type:'group',children:[
          {type:'polygon',shape:{points:[[1834,y],[1840,y-8],[1899,y-8],[1899,y+8],[1840,y+8]]},style:{fill:'#000000',stroke:'#c6c6c6',lineWidth:1}},
          {type:'text',style:{x:1893,y:y,text:api.value(1).toFixed(2),fill:'#ffffff',font:'10.5px '+FONT,align:'right',verticalAlign:'middle'}}
        ]};
      }}
  ]
});
</script></body></html>
